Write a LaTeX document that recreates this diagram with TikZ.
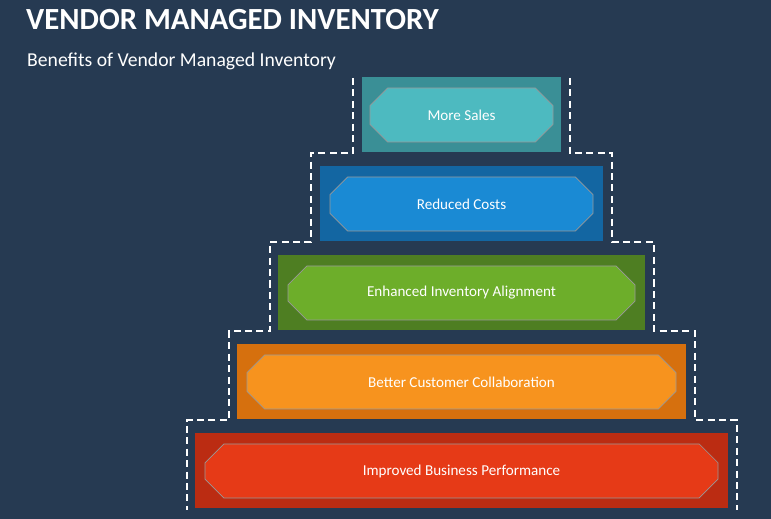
\documentclass[tikz,border=0pt]{standalone}
\usepackage{fontspec}
\setmainfont{Carlito}
\usetikzlibrary{shapes.misc}
\definecolor{bg}{HTML}{263A52}
\definecolor{tealO}{HTML}{3A8F96}\definecolor{tealI}{HTML}{4DBAC0}
\definecolor{blueO}{HTML}{1366A2}\definecolor{blueI}{HTML}{1A8AD4}
\definecolor{greenO}{HTML}{4E7E22}\definecolor{greenI}{HTML}{6DAE2A}
\definecolor{orangeO}{HTML}{D6700E}\definecolor{orangeI}{HTML}{F7931E}
\definecolor{redO}{HTML}{BB2C12}\definecolor{redI}{HTML}{E63A17}
\tikzset{
  outerbox/.style={rectangle,inner sep=0pt,minimum height=75*0.02cm},
  innerbox/.style={chamfered rectangle,chamfered rectangle xsep=7pt,chamfered rectangle ysep=7pt,
    inner sep=0pt,minimum height=54*0.02cm,text=white,font=\fontsize{8.6}{10}\selectfont,
    draw=black!40,line width=0.4pt},
  stepline/.style={white,dashed,line width=1pt,dash pattern=on 4pt off 2.5pt}
}
\begin{document}
\begin{tikzpicture}[x=0.02cm,y=-0.02cm]
  \fill[bg] (0,0) rectangle (771,519);
  \useasboundingbox (0,0) rectangle (771,519);
  \node[anchor=base west,text=white,font=\fontsize{17.5}{20}\selectfont\bfseries] (title) at (20,30) {VENDOR MANAGED INVENTORY};
  \node[anchor=base west,text=white,font=\fontsize{11.2}{13}\selectfont] (subtitle) at (21,67) {Benefits of Vendor Managed Inventory};
  % steps
  \draw[stepline] (353,78) -- (353,153) -- (311,153) -- (311,242) -- (270,242) -- (270,331) -- (229,331) -- (229,420) -- (187,420) -- (187,510);
  \draw[stepline] (570,78) -- (570,153) -- (612,153) -- (612,242) -- (654,242) -- (654,331) -- (695,331) -- (695,420) -- (737,420) -- (737,510);
  % blocks
  \node[outerbox,fill=tealO,minimum width=199*0.02cm] (sales) at (461.5,115) {};
  \node[innerbox,fill=tealI,minimum width=183*0.02cm] (salesT) at (sales) {More Sales};
  \node[outerbox,fill=blueO,minimum width=283*0.02cm] (costs) at (461.5,204) {};
  \node[innerbox,fill=blueI,minimum width=263*0.02cm] (costsT) at (costs) {Reduced Costs};
  \node[outerbox,fill=greenO,minimum width=367*0.02cm] (align) at (461.5,293) {};
  \node[innerbox,fill=greenI,minimum width=347*0.02cm] (alignT) at (align) {Enhanced Inventory Alignment};
  \node[outerbox,fill=orangeO,minimum width=449*0.02cm] (collab) at (461.5,382) {};
  \node[innerbox,fill=orangeI,minimum width=429*0.02cm] (collabT) at (collab) {Better Customer Collaboration};
  \node[outerbox,fill=redO,minimum width=533*0.02cm] (perf) at (461.5,471) {};
  \node[innerbox,fill=redI,minimum width=513*0.02cm] (perfT) at (perf) {Improved Business Performance};
\end{tikzpicture}
\end{document}
